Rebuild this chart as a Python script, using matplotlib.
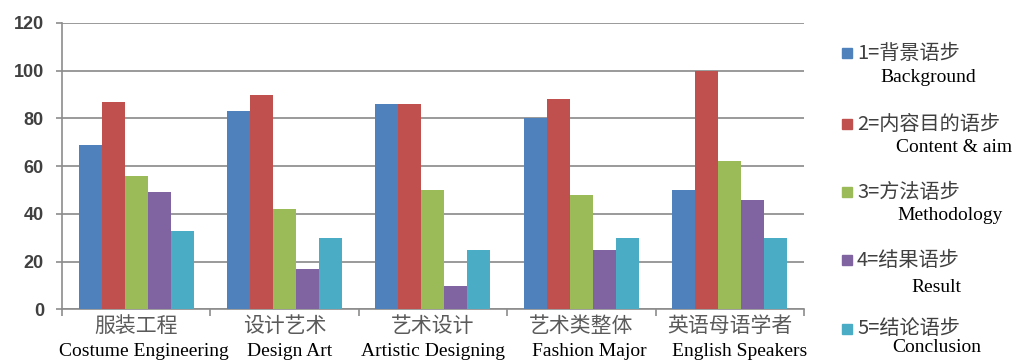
import matplotlib.pyplot as plt
from matplotlib.patches import Rectangle
from matplotlib.transforms import blended_transform_factory, offset_copy
import numpy as np

# categories (Chinese + English)
cats_cn = ["服装工程", "设计艺术", "艺术设计", "艺术类整体", "英语母语学者"]
cats_en = ["Costume Engineering", "Design Art", "Artistic Designing", "Fashion Major", "English Speakers"]

# move series values
background = [69, 83, 86, 80, 50]
content_aim = [87, 90, 86, 88, 100]
methodology = [56, 42, 50, 48, 62]
result = [49, 17, 10, 25, 46]
conclusion = [33, 30, 25, 30, 30]

series_cn = ["1=背景语步", "2=内容目的语步", "3=方法语步", "4=结果语步", "5=结论语步"]
series_en = ["Background", "Content & aim", "Methodology", "Result", "Conclusion"]
colors = ["#4F81BD", "#C0504D", "#9BBB59", "#8064A2", "#4BACC6"]

cjk = ["Noto Sans CJK SC", "DejaVu Sans"]
serif = ["Liberation Serif", "DejaVu Serif"]

fig = plt.figure(figsize=(10.14, 3.63), dpi=100)
ax = fig.add_axes([0.0611, 0.1474, 0.7318, 0.7893])

x = np.arange(len(cats_cn))
w = 0.155
all_series = [background, content_aim, methodology, result, conclusion]
for i, vals in enumerate(all_series):
    ax.bar(x + (i - 2) * w, vals, w, color=colors[i], zorder=3)

ax.set_ylim(0, 120)
ax.set_xlim(-0.5, len(cats_cn) - 0.5)
ax.set_yticks(range(0, 121, 20))
ax.yaxis.grid(True, color="#9a9a9a", lw=1.4, zorder=0)

for s in ["top", "right"]:
    ax.spines[s].set_visible(False)
for s in ["left", "bottom"]:
    ax.spines[s].set_color("#8c8c8c")
    ax.spines[s].set_linewidth(1.2)

# boundary ticks on x, labels at centres
ax.set_xticks(np.arange(-0.5, len(cats_cn), 1.0))
ax.set_xticklabels([])
ax.tick_params(axis="x", which="major", length=5, color="#8c8c8c", width=1.2)
ax.set_xticks(x, minor=True)
ax.set_xticklabels(cats_cn, minor=True, family=cjk, fontsize=15, color="#5a5a5a")
ax.tick_params(axis="x", which="minor", length=0, pad=4)

ax.tick_params(axis="y", length=4, color="#8c8c8c", width=1.2, pad=9)
for lab in ax.get_yticklabels():
    lab.set_fontfamily(["Liberation Sans", "DejaVu Sans"])
    lab.set_fontweight("bold")
    lab.set_fontsize(13)
    lab.set_color("#404040")

# English names sit a little right of the centres in the original
en_shift = [8, 5, 0, 8, 10]
tr = blended_transform_factory(ax.transData, ax.transAxes)
for xi, name, dx in zip(x, cats_en, en_shift):
    t = offset_copy(tr, fig=fig, x=dx, y=0, units="dots")
    ax.text(xi, -0.148, name, transform=t, ha="center", va="center",
            family=serif, fontsize=14, color="black")

# legend drawn by hand: colour square, Chinese label, English line below
leg_y = [53, 124, 192, 260, 329]
en_y = [78, 147, 216, 287, 348]
en_x = [928, 954, 950, 936, 937]
H, W = 363.0, 1014.0
for i in range(5):
    yc = 1 - leg_y[i] / H
    fig.patches.append(Rectangle((842 / W, yc - 5 / H), 10 / W, 10 / H,
                                 transform=fig.transFigure, color=colors[i]))
    fig.text(857 / W, yc, series_cn[i], family=cjk, fontsize=14.5,
             color="#404040", ha="left", va="center")
    fig.text(en_x[i] / W, 1 - en_y[i] / H, series_en[i], family=serif,
             fontsize=14, color="black", ha="center", va="center")

fig.savefig("out.png", dpi=100)
